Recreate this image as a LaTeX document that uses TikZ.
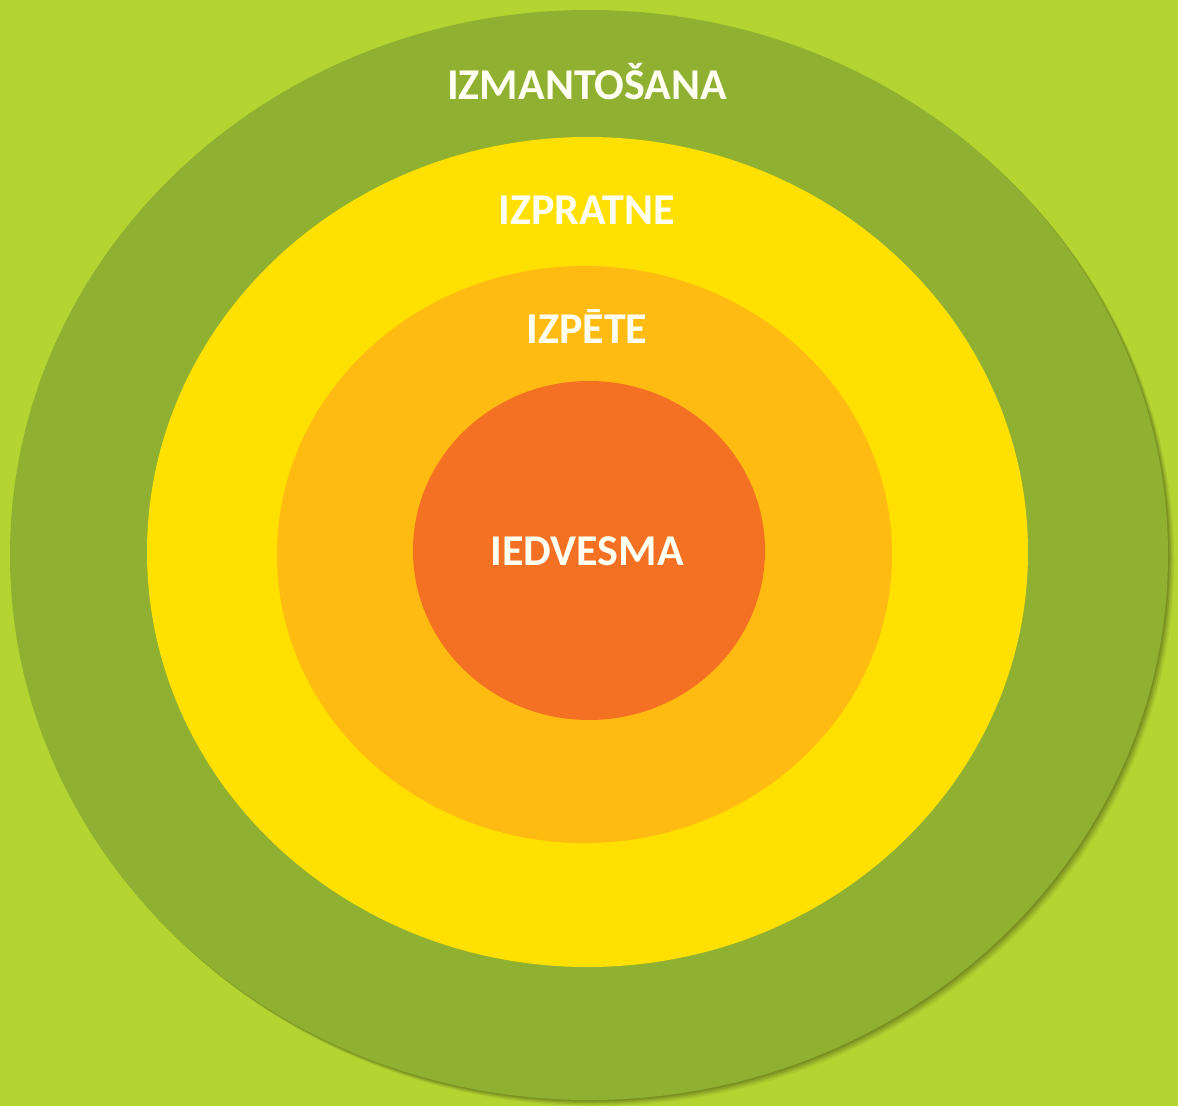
\documentclass[tikz,border=0pt]{standalone}
\usepackage{fontspec}
\setmainfont{Carlito}
\definecolor{bggreen}{HTML}{B4D432}
\definecolor{ringgreen}{HTML}{8FB030}
\definecolor{ringyellow}{HTML}{FFE000}
\definecolor{ringamber}{HTML}{FFBB12}
\definecolor{ringorange}{HTML}{F47022}
\definecolor{labelwhite}{HTML}{FFFFF2}
\tikzset{
  ringlabel/.style={text=labelwhite, font=\bfseries\fontsize{44}{44}\selectfont, inner sep=0pt}
}
\begin{document}
\begin{tikzpicture}[x=1pt, y=-1pt]
       \useasboundingbox (0, 0) rectangle (1178, 1106);
       \fill[bggreen] (0, 0) rectangle (1178, 1106);

       % soft shadow of the outer ring
       \foreach \s/\o in {6/0.06, 4.5/0.08, 3/0.10, 1.5/0.12}
         \fill[black, opacity=\o] (589+\s, 555+\s) ellipse (579 and 545);

       \fill[ringgreen] (589, 555) ellipse (579 and 545);
       \fill[ringyellow] (587.5, 552) ellipse (440.5 and 415);
       \fill[ringamber] (584.5, 554.5) ellipse (307.5 and 288.5);
       \fill[ringorange] (589, 550.5) ellipse (176 and 169.5);

       \node[ringlabel] (use) at (587, 82) {IZMANTOŠANA};
       \node[ringlabel] (send) at (587, 210) {IZPRATNE};
       \node[ringlabel] (study) at (587, 327) {IZPĒTE};
       \node[ringlabel] (inspire) at (587, 551) {IEDVESMA};
    \end{tikzpicture}
\end{document}
